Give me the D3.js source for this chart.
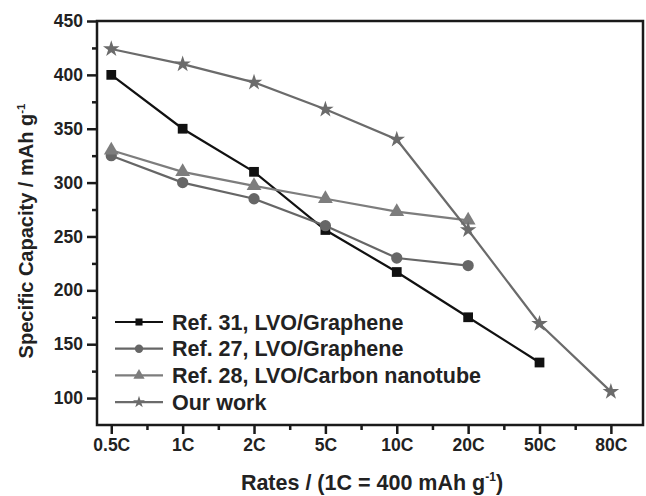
<!DOCTYPE html>
<html>
<head>
<meta charset="utf-8">
<script src="https://cdn.jsdelivr.net/npm/d3@7"></script>
<style>
  body { margin: 0; background: #fff; }
  svg { display: block; font-family: Arial, "Liberation Sans", sans-serif; font-weight: bold; }
</style>
</head>
<body>
<svg id="chart" width="646" height="496"></svg>
<script>
const rates = ['0.5C', '1C', '2C', '5C', '10C', '20C', '50C', '80C'];
const ref31 = [400, 350, 310, 256, 217, 175, 133];
const ref27 = [325, 300, 285, 260, 230, 223];
const ref28 = [330, 310, 297, 285, 273, 265];
const ourWork = [424, 410, 393, 368, 340, 256, 169, 106];
const yTicks = [100, 150, 200, 250, 300, 350, 400, 450];

const series = [
  { name: 'Ref. 31, LVO/Graphene', values: ref31, color: '#111', symbol: d3.symbolSquare, size: 95, legSize: 50 },
  { name: 'Ref. 27, LVO/Graphene', values: ref27, color: '#666', symbol: d3.symbolCircle, size: 100, legSize: 55 },
  { name: 'Ref. 28, LVO/Carbon nanotube', values: ref28, color: '#7d7d7d', symbol: d3.symbolTriangle, size: 95, legSize: 55 },
  { name: 'Our work', values: ourWork, color: '#6b6b6b', symbol: d3.symbolStar, size: 85, legSize: 45 }
];

const svg = d3.select('#chart');
const plotLeft = 97, plotRight = 643, plotTop = 21, plotBottom = 425;
const font = 'Arial, "Liberation Sans", sans-serif';

const x = d3.scaleLinear().domain([-0.2, 7.45]).range([plotLeft, plotRight]);
const y = d3.scaleLinear().domain([75, 450]).range([plotBottom, plotTop]);

// frame
svg.append('rect')
  .attr('x', plotLeft).attr('y', plotTop)
  .attr('width', plotRight - plotLeft).attr('height', plotBottom - plotTop)
  .attr('fill', 'none').attr('stroke', '#1a1a1a').attr('stroke-width', 2.5);

// x axis
const xAxis = svg.append('g').attr('transform', `translate(0,${plotBottom})`);
xAxis.call(d3.axisBottom(x).tickValues(d3.range(rates.length)).tickSize(9).tickPadding(5)
  .tickFormat(i => rates[i]));
xAxis.append('g').call(d3.axisBottom(x).tickValues(d3.range(0.5, 7, 1)).tickSize(5).tickFormat(''));
xAxis.selectAll('.domain').remove();
xAxis.selectAll('line').attr('stroke', '#1a1a1a').attr('stroke-width', 2.5);
xAxis.selectAll('text').attr('font-size', 17.5).attr('font-weight', 'bold').attr('fill', '#222')
  .attr('font-family', font);

// y axis
const yAxis = svg.append('g').attr('transform', `translate(${plotLeft},0)`);
yAxis.call(d3.axisLeft(y).tickValues(yTicks).tickSize(10).tickPadding(4));
yAxis.append('g').call(d3.axisLeft(y).tickValues(d3.range(125, 450, 50)).tickSize(5).tickFormat(''));
yAxis.selectAll('.domain').remove();
yAxis.selectAll('line').attr('stroke', '#1a1a1a').attr('stroke-width', 2.5);
yAxis.selectAll('text').attr('font-size', 17.5).attr('font-weight', 'bold').attr('fill', '#222')
  .attr('font-family', font);

// axis titles
const xt = svg.append('text')
  .attr('x', 372).attr('y', 490)
  .attr('text-anchor', 'middle').attr('font-size', 21.5).attr('fill', '#222');
xt.append('tspan').text('Rates / (1C = 400 mAh g');
xt.append('tspan').text('-1').attr('font-size', 12).attr('dy', -9);
xt.append('tspan').text(')').attr('dy', 9);

const yt = svg.append('text')
  .attr('transform', 'translate(33,231) rotate(-90)')
  .attr('text-anchor', 'middle').attr('font-size', 20).attr('fill', '#222');
yt.append('tspan').text('Specific Capacity / mAh g');
yt.append('tspan').text('-1').attr('font-size', 11.5).attr('dy', -8.5);

// lines and markers
const line = d3.line().x((d, i) => x(i)).y(d => y(d));
series.forEach(s => {
  svg.append('path')
    .datum(s.values)
    .attr('d', line)
    .attr('fill', 'none')
    .attr('stroke', s.color)
    .attr('stroke-width', 2.2);
  svg.selectAll(null)
    .data(s.values)
    .enter()
    .append('path')
    .attr('d', d3.symbol().type(s.symbol).size(s.size))
    .attr('transform', (d, i) => `translate(${x(i)},${y(d)})`)
    .attr('fill', s.color);
});

// legend
const legend = svg.append('g');
series.forEach((s, i) => {
  const ly = 322 + i * 26.7;
  legend.append('line')
    .attr('x1', 115).attr('x2', 163).attr('y1', ly).attr('y2', ly)
    .attr('stroke', s.color).attr('stroke-width', 2.2);
  legend.append('path')
    .attr('d', d3.symbol().type(s.symbol).size(s.legSize))
    .attr('transform', `translate(139,${ly})`)
    .attr('fill', s.color);
  legend.append('text')
    .attr('x', 172).attr('y', ly + 7.5)
    .attr('font-size', 21.5).attr('fill', '#222')
    .text(s.name);
});
</script>
</body>
</html>
